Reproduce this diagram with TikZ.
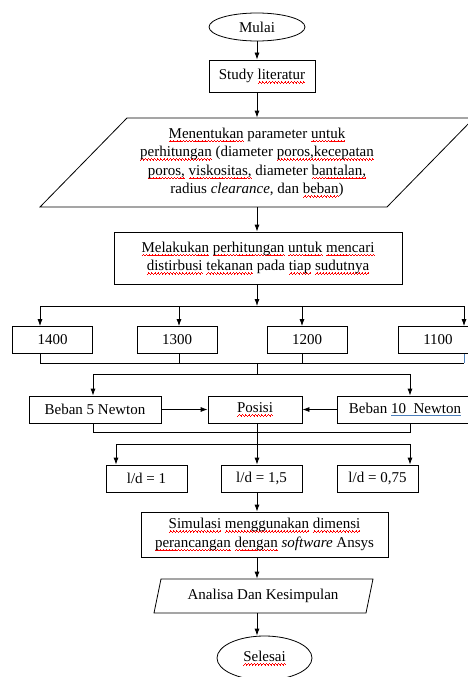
\documentclass[tikz,border=0pt]{standalone}
\usepackage{fontspec}
\setmainfont{Liberation Serif}
\usepackage{xcolor}
\usepackage{tikz}
\usetikzlibrary{arrows.meta,shapes.geometric}

\definecolor{wordblue}{HTML}{4A7EBB}
\newcommand{\wavebit}{\hbox{\rule[-3.8pt]{.75pt}{.6pt}\rule[-3.1pt]{.75pt}{.6pt}\rule[-2.4pt]{.75pt}{.6pt}\rule[-3.1pt]{.75pt}{.6pt}}}
\newcommand{\typo}[1]{\setbox0\hbox{#1}\rlap{\textcolor{red}{\hbox to\wd0{\xleaders\wavebit\hfil}}}\box0\relax}
\newcommand{\gram}[1]{\setbox0\hbox{#1}\rlap{\textcolor{wordblue}{\rule[-2.5pt]{\wd0}{0.6pt}}}\box0\relax}

\begin{document}
\begin{tikzpicture}[x=1pt,y=-1pt,>={Latex[length=7pt,width=5pt]},line width=0.8pt,
  font=\fontsize{15}{18.5}\selectfont,
  box/.style={draw,rectangle,inner sep=0pt,align=center},
  term/.style={draw,ellipse,inner sep=0pt},
  io/.style={inner sep=0pt,align=center}]
  \useasboundingbox (0,0) rectangle (468,677);

  \node[term,minimum width=96pt,minimum height=28pt] (mulai) at (257,27) {Mulai};
  \node[box,minimum width=106pt,minimum height=32pt] (study) at (262,76) {Study \typo{literatur}};
  \draw (127,118) -- (474,118) -- (387,207) -- (40,207) -- cycle;
  \node[io,minimum width=250pt,minimum height=89pt] (param) at (257,162.5)
    {\typo{Menentukan} parameter \typo{untuk}\\
     \typo{perhitungan} (diameter \typo{poros,kecepatan}\\
     \typo{poros,} \typo{viskositas,} diameter \typo{bantalan,}\\
     radius \emph{clearance}, dan \typo{beban})};
  \node[box,minimum width=288pt,minimum height=52pt] (hitung) at (258,258)
    {\typo{Melakukan} \typo{perhitungan} \typo{untuk} \typo{mencari}\\
     \typo{distirbusi} \typo{tekanan} pada \typo{tiap} \typo{sudutnya}};
  \foreach \n/\x in {1400/52.5,1300/177,1200/307,1100/438}
    \node[box,minimum width=80pt,minimum height=27pt] (v\n) at (\x,340) {\n};
  \node[box,minimum width=132pt,minimum height=27pt] (b5) at (95,409.5) {Beban 5 Newton};
  \node[box,minimum width=94pt,minimum height=27pt] (posisi) at (255,409.5) {\typo{Posisi}};
  \node[box,minimum width=136pt,minimum height=27pt] (b10) at (405,409.5) {Beban \gram{10\ \ Newton}};
  \node[box,minimum width=81pt,minimum height=27pt] (ld1) at (146.5,478.5) {l/d = 1};
  \node[box,minimum width=81pt,minimum height=27pt] (ld15) at (261.5,478.5) {l/d = 1,5};
  \node[box,minimum width=81pt,minimum height=27pt] (ld075) at (377.5,478.5) {l/d = 0,75};
  \node[box,minimum width=247pt,minimum height=45pt] (sim) at (264.5,534.5)
    {\typo{Simulasi} \typo{menggunakan} \typo{dimensi}\\
     \typo{perancangan} \typo{dengan} \emph{software} Ansys};
  \draw (161,579) -- (373,579) -- (366,613) -- (154,613) -- cycle;
  \node[io,minimum width=200pt,minimum height=34pt] (analisa) at (263,596) {Analisa Dan Kesimpulan};
  \node[term,minimum width=95pt,minimum height=44pt] (selesai) at (264.5,658) {\typo{Selesai}};

  \draw[->] (mulai.south) -- (mulai.south |- study.north);
  \draw[->] (param.north |- study.south) -- (param.north);
  \draw[->] (param.south) -- (param.south |- hitung.north);
  \draw[->] (257,0 |- hitung.south) -- (257,306);
  \draw (40,306) -- (464,306);
  \foreach \n/\x/\c in {1400/40/black,1300/179/black,1200/302/black,1100/464/wordblue}{
    \draw[->] (\x,306) -- (\x,306 |- v\n.north);
    \draw[\c] (\x,306 |- v\n.south) -- (\x,363);
  }
  \draw (40,363) -- (464,363);
  \draw (257,363) -- (257,374);
  \draw (93,374) -- (410,374);
  \draw[->] (93,374) -- (93,374 |- b5.north);
  \draw[->] (410,374) -- (410,374 |- b10.north);
  \draw[->] (b5) -- (posisi);
  \draw[->] (b10) -- (posisi);
  \draw (93,0 |- b5.south) -- (93,432) -- (410,432) -- (410,0 |- b10.south);
  \draw (257,0 |- posisi.south) -- (257,444);
  \draw (116,444) -- (410,444);
  \foreach \n/\x in {ld1/116,ld15/257,ld075/410}
    \draw[->] (\x,444) -- (\x,444 |- \n.north);
  \draw[->] (257,0 |- ld15.south) -- (257,0 |- sim.north);
  \draw[->] (257,0 |- sim.south) -- (257,0 |- analisa.north);
  \draw[->] (257,0 |- analisa.south) -- (257,0 |- selesai.north);
\end{tikzpicture}
\end{document}
